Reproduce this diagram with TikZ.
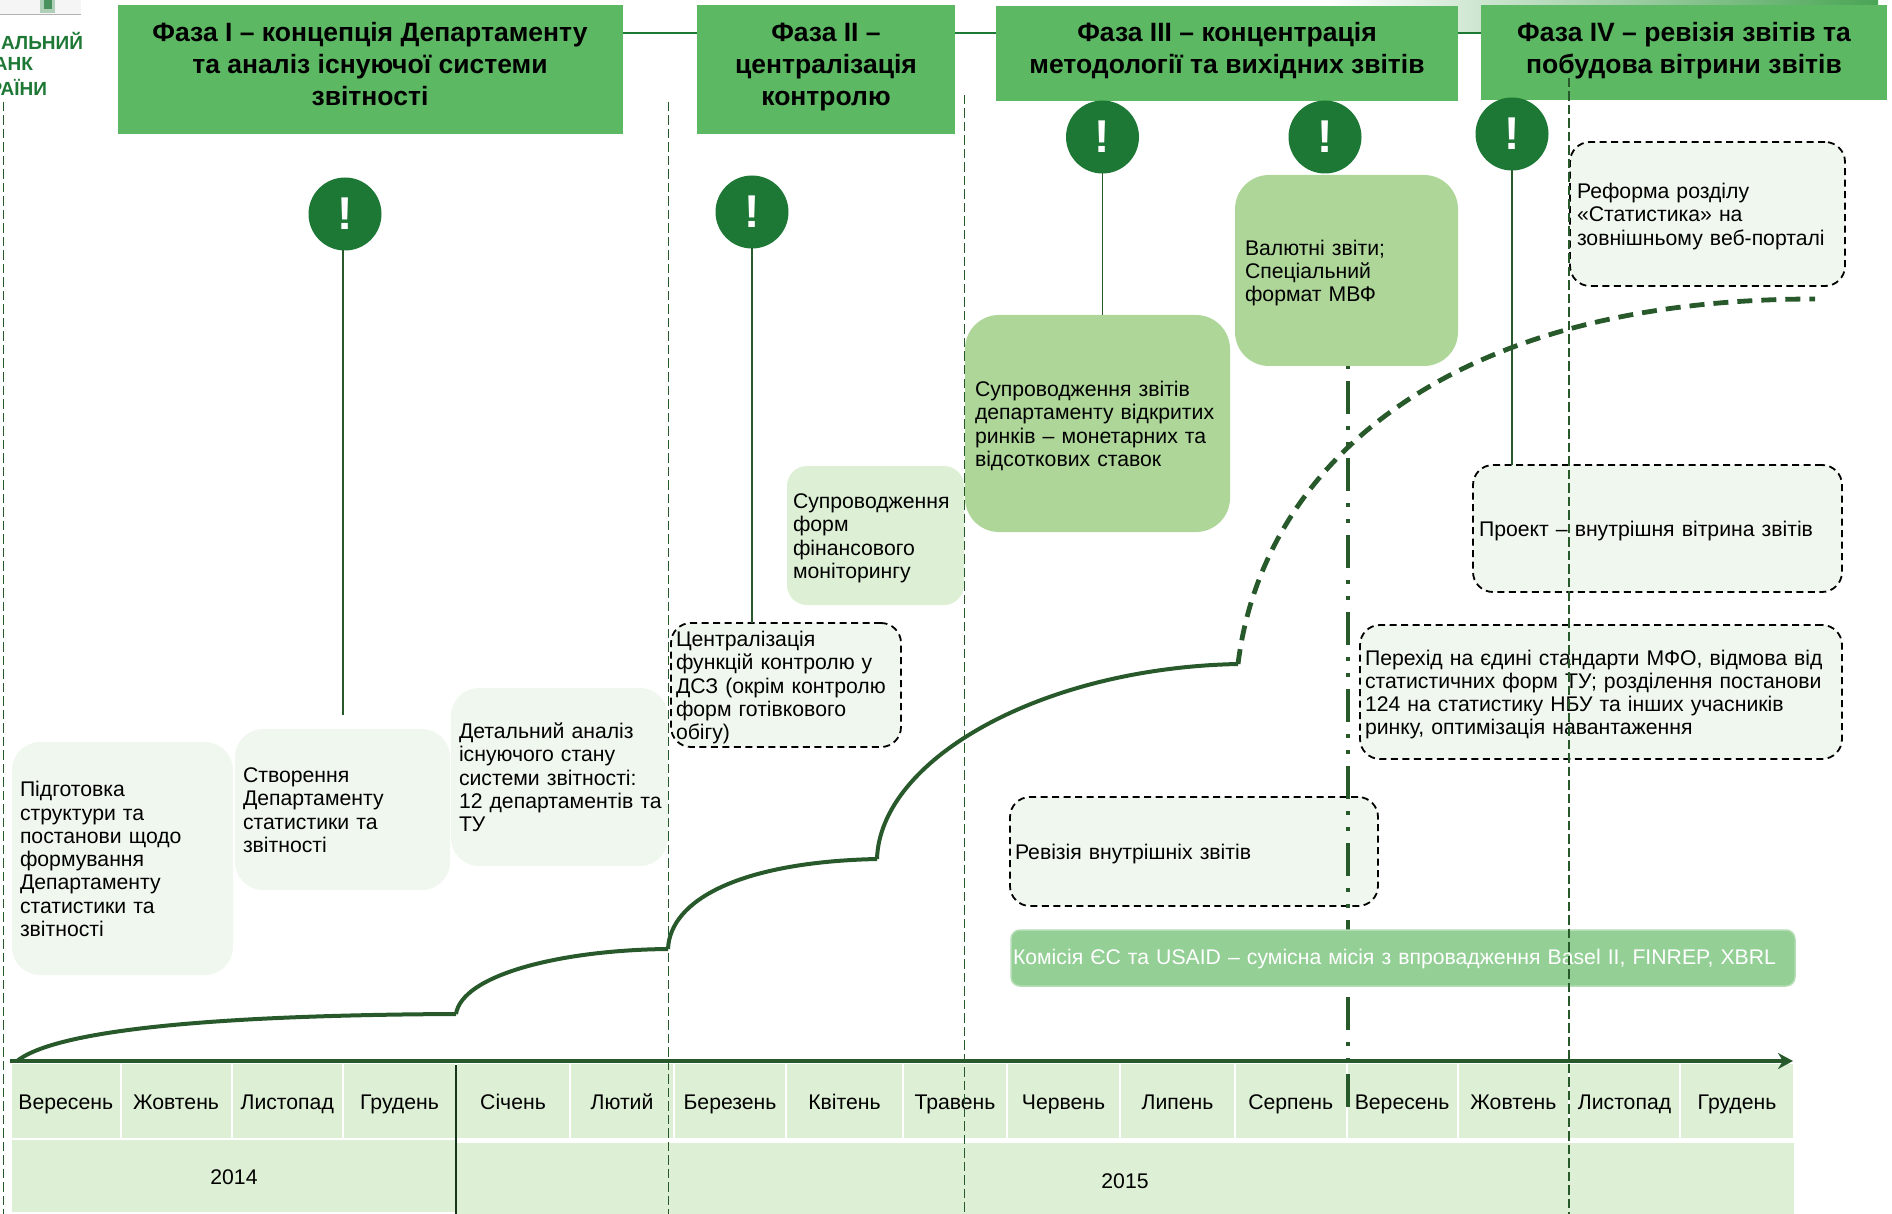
\documentclass[tikz,border=0pt]{standalone}
\usepackage{fontspec}
\setmainfont{Liberation Sans}
\usetikzlibrary{arrows.meta}
\definecolor{hdr}{HTML}{5DB863}
\definecolor{dkg}{HTML}{1D7735}
\definecolor{lin}{HTML}{27592B}
\definecolor{pale}{HTML}{F0F7EE}
\definecolor{mid}{HTML}{DDEFD4}
\definecolor{strong}{HTML}{ADD698}
\definecolor{kom}{HTML}{94CF96}
\tikzset{
  every node/.style={outer sep=0pt,inner ysep=0pt},
  bodytxt/.style={font=\fontsize{21.2}{23.25}\selectfont,align=left,text=black},
  pal/.style={bodytxt,fill=pale,rounded corners=28pt},
  dashbox/.style={bodytxt,fill=pale,draw=black,line width=1.8pt,dash pattern=on 7pt off 4.5pt,rounded corners=20pt},
  midbox/.style={bodytxt,fill=mid,rounded corners=20pt},
  strongbox/.style={bodytxt,fill=strong,rounded corners=34pt},
  kombox/.style={bodytxt,fill=kom,draw=kom!70!white,line width=1.5pt,rounded corners=9pt,text=white},
  phase/.style={fill=hdr},
  phasetxt/.style={font=\fontsize{26.5}{32}\selectfont\bfseries,align=center,text=black},
  alert/.style={circle,fill=dkg,minimum size=73pt,inner sep=0pt,text=white,font=\fontsize{46}{46}\selectfont\bfseries},
  cell/.style={fill=mid,font=\fontsize{21.2}{24}\selectfont,text=black,align=center,text height=22pt,text depth=5pt},
  stem/.style={draw=lin,line width=1.7pt},
  guide/.style={draw=lin,line width=1.4pt,dash pattern=on 9.5pt off 4pt},
  growth/.style={draw=lin,line width=4pt},
  logotxt/.style={font=\fontsize{19}{19}\selectfont\bfseries,text=dkg,anchor=east,inner xsep=0pt},
}
% name, style, x0, y0, x1, y1, xsep, text
\newcommand{\bx}[8]{\node[#2,inner xsep=#7pt,minimum width={(#5-#3)*1pt},minimum height={(#6-#4)*1pt},text width={(#5-#3)*1pt-2*#7pt}] (#1) at ({(#3+#5)/2},{(#4+#6)/2}) {\rule{0pt}{21pt}#8\rule[-5pt]{0pt}{5pt}};}
\newcommand{\cl}[5]{\node[cell,inner xsep=0pt,minimum width={(#3-#2-2)*1pt},minimum height={(#5-#4)*1pt}] (#1) at ({(#2+#3)/2},{(#4+#5)/2}) {\cellt};}
\begin{document}
\begin{tikzpicture}[x=1pt,y=-1pt]
\useasboundingbox (0,0) rectangle (1892,1214);
% top band
\shade[left color=white,right color=hdr!70!dkg] (1330,0) rectangle (1878,33);
% logo remnant
\fill[black!4] (0,0) rectangle (81,14);
\draw[black!30,line width=1pt] (0,14.5) -- (81,14.5);
\fill[dkg!35] (40,0) rectangle (55,13);
\fill[dkg!80] (44,0) rectangle (52,9);
\node[logotxt] (lg1) at (83,41) {НАЛЬНИЙ};
\node[logotxt] (lg2) at (33,64) {АНК};
\node[logotxt] (lg3) at (47,87) {РАЇНИ};
% phases
\node[phase,minimum width=505pt,minimum height=129pt] (p1) at (370.5,69.5) {};
\node[phase,minimum width=258pt,minimum height=129pt] (p2) at (826,69.5) {};
\node[phase,minimum width=462pt,minimum height=95pt] (p3) at (1227,53.5) {};
\node[phase,minimum width=406pt,minimum height=95pt] (p4) at (1684,52.5) {};
\draw[draw=dkg,line width=1.8pt] (p1.east |- 0,33) -- (p2.west |- 0,33);
\draw[draw=dkg,line width=1.8pt] (p2.east |- 0,33) -- (p3.west |- 0,33);
\draw[draw=dkg,line width=1.8pt] (p3.east |- 0,33) -- (p4.west |- 0,33);
\node[phasetxt] (pt1) at (370,64) {Фаза I – концепція Департаменту\\та аналіз існуючої системи\\звітності};
\node[phasetxt] (pt2) at (826,67) {Фаза II –\\централізація\\контролю};
\node[phasetxt] (pt3) at (1227,51) {Фаза III – концентрація\\методології та вихідних звітів};
\node[phasetxt] (pt4) at (1684,51) {Фаза IV – ревізія звітів та\\побудова вітрини звітів};
% months
\def\cellt{Вересень}\cl{m1}{11}{120.6}{1064}{1138}
\def\cellt{Жовтень}\cl{m2}{120.6}{231.5}{1064}{1138}
\def\cellt{Листопад}\cl{m3}{231.5}{343}{1064}{1138}
\def\cellt{Грудень}\cl{m4}{343}{456}{1064}{1138}
\def\cellt{Січень}\cl{m5}{456}{570}{1064}{1138}
\def\cellt{Лютий}\cl{m6}{570}{674}{1064}{1138}
\def\cellt{Березень}\cl{m7}{674}{786}{1064}{1138}
\def\cellt{Квітень}\cl{m8}{786}{903}{1064}{1138}
\def\cellt{Травень}\cl{m9}{903}{1007}{1064}{1138}
\def\cellt{Червень}\cl{m10}{1007}{1120}{1064}{1138}
\def\cellt{Липень}\cl{m11}{1120}{1235}{1064}{1138}
\def\cellt{Серпень}\cl{m12}{1235}{1346.5}{1064}{1138}
\def\cellt{Вересень}\cl{m13}{1346.5}{1457.7}{1064}{1138}
\def\cellt{Жовтень}\cl{m14}{1457.7}{1569}{1064}{1138}
\def\cellt{Листопад}\cl{m15}{1569}{1680}{1064}{1138}
\def\cellt{Грудень}\cl{m16}{1680}{1794}{1064}{1138}
\def\cellt{2014}\cl{y14}{11}{457}{1140}{1212}
\def\cellt{2015}\cl{y15}{455}{1795}{1143}{1216}
\draw[draw=lin!60!black,line width=1.3pt] (456,1065) -- (456,1214);
% boxes
\bx{b1}{pal}{12}{742}{233}{975}{8}{Підготовка\\структури та\\постанови щодо\\формування\\Департаменту\\статистики та\\звітності}
\bx{b2}{pal}{235}{729}{450}{890}{8}{Створення\\Департаменту\\статистики та\\звітності}
\bx{b3}{pal}{451}{688}{668}{866}{8}{Детальний аналіз\\існуючого стану\\системи звітності:\\12~департаментів~та\\ТУ}
\bx{b4}{dashbox}{671}{623}{901}{747}{5}{Централізація\\функцій контролю у\\ДСЗ (окрім контролю\\форм готівкового\\обігу)}
\bx{b5}{midbox}{787}{466}{964}{605}{6}{Супроводження\\форм\\фінансового\\моніторингу}
\bx{b6}{strongbox}{965}{315}{1230}{532}{10}{Супроводження звітів\\департаменту відкритих\\ринків – монетарних та\\відсоткових ставок}
\bx{b7}{strongbox}{1235}{175}{1458}{366}{10}{Валютні звіти;\\Спеціальний\\формат МВФ}
\bx{b8}{dashbox}{1570}{142}{1845}{286}{7}{Реформа розділу\\«Статистика» на\\зовнішньому веб-порталі}
\bx{b9}{dashbox}{1473}{465}{1842}{592}{6}{Проект – внутрішня вітрина звітів}
\bx{b10}{dashbox}{1360}{625}{1842}{759}{5}{Перехід на єдині стандарти МФО, відмова від\\статистичних форм ТУ; розділення постанови\\124 на статистику НБУ та інших учасників\\ринку, оптимізація навантаження}
\bx{b11}{dashbox}{1010}{797}{1378}{906}{5}{Ревізія внутрішніх звітів}
% alerts and stems
\node[alert] (a1) at (345,214) {!};
\node[alert] (a2) at (752,212) {!};
\node[alert] (a3) at (1102.5,137) {!};
\node[alert] (a4) at (1325,137) {!};
\node[alert] (a5) at (1512,134) {!};
\coordinate (e1) at (343,715);
\draw[stem] (e1 |- a1.south) -- (e1);
\draw[stem] (a2.south) -- (a2 |- b4.north);
\draw[stem] (a3.south) -- (a3 |- b6.north);
\draw[stem] (a5.south) -- (a5 |- b9.north);
% growth curve
\coordinate (g0) at (17,1061);
\coordinate (g1) at (456,1014);
\coordinate (g2) at (668,949);
\coordinate (g3) at (877,859);
\coordinate (g4) at (1238,664);
\coordinate (g5) at (1815,299);
\draw[growth] (g0) .. controls (60,1027) and (240,1015) .. (g1);
\draw[growth] (g1) .. controls (462,975) and (560,950) .. (g2);
\draw[growth] (g2) .. controls (670,900) and (740,862) .. (g3);
\draw[growth] (g3) .. controls (880,760) and (1040,668) .. (g4);
\draw[growth,line width=4.8pt,dash pattern=on 15pt off 9pt] (g4) .. controls (1262,470) and (1440,299) .. (g5);
% commission line
\coordinate (v0) at (1348,1107);
\draw[draw=lin,line width=4pt,dash pattern=on 33pt off 12pt on 4pt off 12pt on 4pt off 12pt] (v0) -- (v0 |- b7.south);
\bx{b12}{kombox}{1011}{930}{1795}{986}{2}{Комісія ЄС та USAID – сумісна місія з впровадження Basel II, FINREP, XBRL\rule[-9pt]{0pt}{9pt}}
% axis
\draw[draw=lin,line width=3.2pt,-{Stealth[length=15pt,width=16pt]}] (m1.north west) ++(-2,-3) coordinate (ax0) -- (1793,1061) coordinate (ax1);
% guides
\coordinate (d1) at (3.5,102);
\coordinate (d2) at (668.5,102);
\coordinate (d3) at (964.5,95);
\coordinate (d4) at (1569,78);
\draw[guide] (d1) -- (3.5,1214);
\draw[guide] (d2) -- (668.5,1214);
\draw[guide] (d3) -- (964.5,1214);
\draw[guide] (d4) -- (1569,1214);
\end{tikzpicture}
\end{document}
